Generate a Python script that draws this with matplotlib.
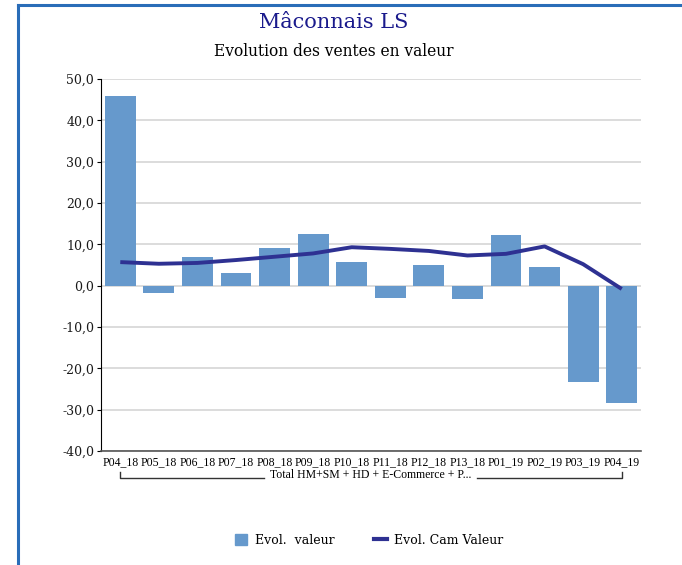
import numpy as np
import matplotlib.pyplot as plt
from matplotlib.lines import Line2D
from matplotlib.patches import Patch
import matplotlib.transforms as mtransforms

# periodes et evolutions (%)
periodes = ['P04_18', 'P05_18', 'P06_18', 'P07_18', 'P08_18', 'P09_18', 'P10_18',
            'P11_18', 'P12_18', 'P13_18', 'P01_19', 'P02_19', 'P03_19', 'P04_19']
evol_valeur = [45.9, -1.8, 6.9, 3.0, 9.0, 12.4, 5.8,
               -2.9, 4.9, -3.2, 12.2, 4.4, -23.2, -28.3]
evol_cam = [5.7, 5.3, 5.5, 6.2, 7.0, 7.8, 9.3,
            8.9, 8.4, 7.3, 7.7, 9.5, 5.2, -0.8]
yticks = [-40, -30, -20, -10, 0, 10, 20, 30, 40, 50]
groupe = 'Total HM+SM + HD + E-Commerce + P...'

bar_col = '#6699cc'
line_col = '#2e3192'

fig = plt.figure(figsize=(6.82, 5.65), dpi=100)
fig.patch.set_facecolor('white')

# cadre bleu
fig.add_artist(Line2D([18 / 682, 18 / 682], [0, 1 - 5 / 565], color='#2a6db8', lw=2.2,
                      transform=fig.transFigure))
fig.add_artist(Line2D([18 / 682, 1], [1 - 5 / 565, 1 - 5 / 565], color='#2a6db8', lw=2.2,
                      transform=fig.transFigure))

fig.text(334 / 682, 1 - 22 / 565, 'Mâconnais LS', ha='center', va='center',
         fontsize=15, color='#1a1a8c', family='DejaVu Serif')
fig.text(334 / 682, 1 - 52 / 565, 'Evolution des ventes en valeur', ha='center', va='center',
         fontsize=11.2, color='black', family='DejaVu Serif')

ax = fig.add_axes([101 / 682, 1 - 451 / 565, 540 / 682, 372 / 565])
x = np.arange(len(periodes))
ax.bar(x, evol_valeur, width=0.8, color=bar_col, zorder=2)
ax.plot(x, evol_cam, color=line_col, lw=2.8, solid_capstyle='butt', zorder=3)

ax.set_xlim(-0.5, len(periodes) - 0.5)
ax.set_ylim(-40, 50)
ax.set_yticks(yticks)
ax.set_yticklabels([f'{v:.1f}'.replace('.', ',') for v in yticks],
                   family='DejaVu Serif', fontsize=9, color='#1a1a1a')
ax.set_xticks(x)
ax.set_xticklabels(periodes, family='Liberation Serif', fontsize=8.5)
ax.tick_params(axis='x', length=0, pad=4)
ax.tick_params(axis='y', length=3, width=0.8, pad=2)
ax.yaxis.grid(True, color='#d9d9d9', lw=1.3, zorder=0)
ax.set_axisbelow(True)
for s in ['top', 'right']:
    ax.spines[s].set_visible(False)
ax.spines['left'].set_color('black')
ax.spines['bottom'].set_color('#555555')
ax.spines['bottom'].set_linewidth(1.2)

# accolade du groupe sous les periodes
tr = mtransforms.blended_transform_factory(ax.transData, ax.transAxes)
yb = -27 / 372
yt = -21 / 372
ax.plot([0, 0, 3.72], [yt, yb, yb], color='#333333', lw=1, transform=tr, clip_on=False)
ax.plot([9.26, 13, 13], [yb, yb, yt], color='#333333', lw=1, transform=tr, clip_on=False)
ax.text(6.5, -24.5 / 372, groupe, transform=tr, ha='center', va='center',
        family='Liberation Serif', fontsize=8.5)

handles = [Patch(color=bar_col), Line2D([], [], color=line_col, lw=3)]
fig.legend(handles, ['Evol.  valeur', 'Evol. Cam Valeur'], loc='center',
           bbox_to_anchor=(369 / 682, 1 - 540 / 565), ncol=2, frameon=False,
           prop={'family': 'DejaVu Serif', 'size': 9}, handlelength=1.0,
           handleheight=0.95, columnspacing=3.2, handletextpad=0.6)

fig.savefig('out.png', dpi=100)
